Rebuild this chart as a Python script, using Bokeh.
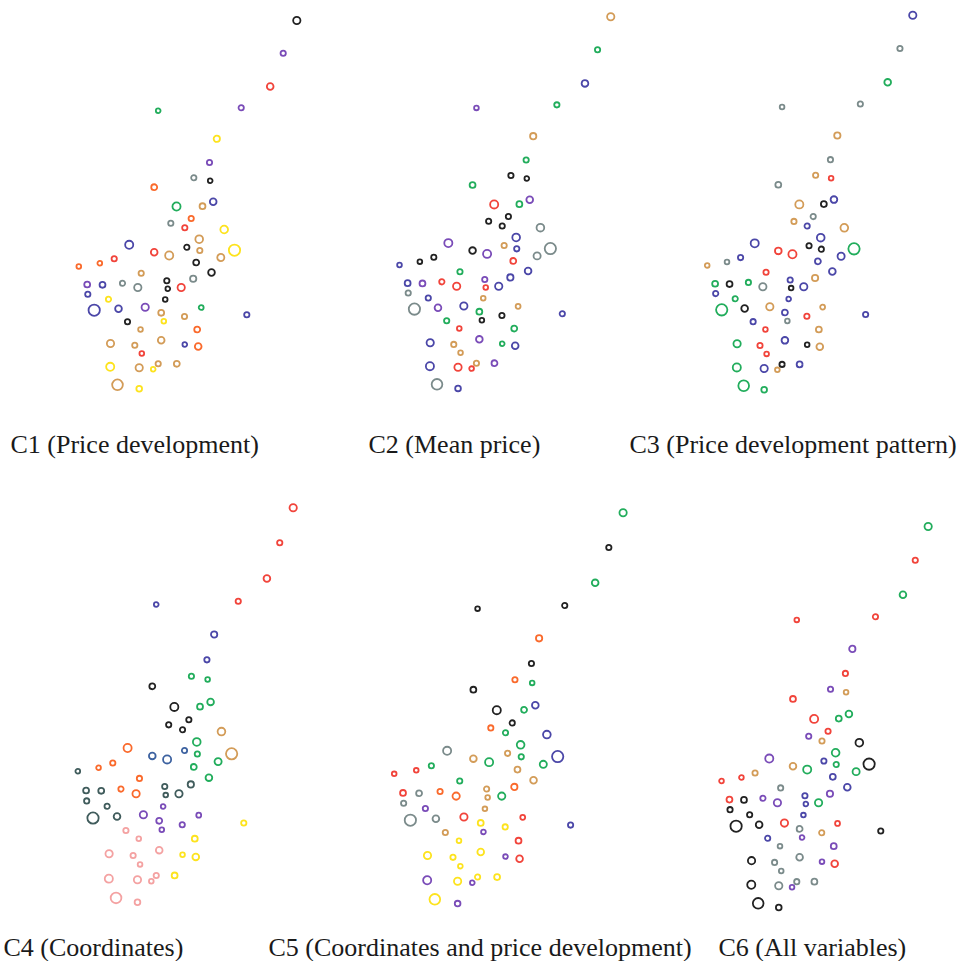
from bokeh.plotting import figure
from bokeh.models import ColumnDataSource, Range1d, Label
from bokeh.layouts import column, row
from bokeh.embed import file_html
from bokeh.resources import INLINE

# ---- data: 2-D embedding coordinates of the 66 observations ----
dim1 = [218.0, 204.4, 191.4, 162.4, 79.4, 138.0, 130.7, 115.0, 131.4, 75.4,
        97.7, 123.7, 134.4, 112.4, 92.0, 106.0, 145.4, 120.4, 50.4, 75.4,
        90.4, 108.0, 121.0, 155.7, 142.0, 35.4, 21.0, 0.0, 117.4, 132.7,
        62.4, 114.4, 88.0, 8.4, 23.7, 43.7, 59.0, 89.0, 102.4, 9.0,
        29.7, 86.4, 122.4, 15.4, 39.7, 66.4, 82.4, 105.7, 168.0, 85.0,
        48.7, 61.7, 118.4, 31.7, 82.4, 56.0, 106.0, 119.4, 63.0, 31.4,
        60.4, 79.4, 74.4, 98.0, 38.7, 60.4]
dim2 = [368.3, 335.6, 302.3, 281.0, 278.0, 250.0, 226.3, 211.0, 208.0, 201.6,
        182.3, 182.6, 187.0, 170.3, 165.6, 161.0, 159.3, 149.6, 144.0, 136.6,
        133.3, 141.6, 138.3, 138.6, 131.3, 130.0, 125.6, 122.3, 126.3, 116.3,
        115.6, 110.0, 108.0, 104.3, 104.0, 105.6, 101.3, 100.0, 101.3, 94.6,
        89.6, 89.3, 81.3, 78.6, 80.0, 81.6, 76.0, 72.3, 74.0, 67.6,
        67.0, 59.3, 59.3, 45.3, 48.6, 43.6, 44.3, 42.3, 35.3, 22.0,
        21.0, 25.0, 19.6, 25.0, 4.0, 0.0]
weight = [4.3, 3.3, 4.0, 3.3, 3.0, 3.8, 3.3, 3.3, 3.0, 3.6,
          4.7, 3.6, 4.0, 3.3, 3.3, 3.3, 4.5, 4.5, 4.7, 4.0,
          4.7, 3.3, 3.3, 6.3, 4.2, 3.3, 3.0, 3.0, 3.6, 4.0,
          3.3, 3.8, 3.3, 3.6, 3.6, 3.3, 4.3, 3.0, 4.3, 3.3,
          3.3, 3.0, 3.1, 6.3, 4.0, 4.3, 3.6, 3.3, 3.3, 3.0,
          3.3, 3.0, 3.6, 4.3, 4.0, 3.3, 3.0, 4.0, 3.0, 4.7,
          4.3, 3.3, 3.0, 3.6, 6.0, 3.5]

# cluster label of every observation in each clustering
c1 = "K P R P G Y P A K O G T B O A R Y T B R T K T Y T R O O K K T A K P B A A K R B Y K G B B P T T B Y K T O T T T B O R Y T T Y T T Y".split()
c2 = "T G B G P T G K K G R G P K K K A B P K P T B A A K K B R B G B P B P R R R B A B T T A P B G K B K G R G B P T G B T B R T R P A B".split()
c3 = "B A G A A T A T R A T K B A T B T B B R R K K G B B A T B B R T B G K G A K B B G B T G K T B R B A B R T G B R K T R G B K T B G G".split()
c4 = "R R R R B B B G G K K G G K K K T G O S S S G T G O O D G G O D D D D O O D D D D P P D D P P P Y P N N Y N N N Y Y N N N N N Y N N".split()
c5 = "G K G K K O K O G K K G B K O G B G A T G T G B G G R R T T G O T R A O O T G A P T R A A R Y Y B P T Y R Y Y Y P R Y P Y Y P Y Y P".split()
c6 = "G R G R R P R P T R R G G R P T K G P T G B G K G T R R B B A P B R K P P B G K K B R K K R A T K P B A P K A A P R A K A A P A K K".split()

titles = ["C1 (Price development)", "C2 (Mean price)", "C3 (Price development pattern)",
          "C4 (Coordinates)", "C5 (Coordinates and price development)", "C6 (All variables)"]

palette = {
    "K": "#222222", "R": "#f1443b", "O": "#fa6a2c", "T": "#d39c58",
    "Y": "#fde31e", "G": "#22ad5c", "B": "#4b47a8", "P": "#7a4cb8",
    "A": "#7b8b8b", "D": "#405c5c", "S": "#3d62a0", "N": "#f4a2a2",
}

# ---- layout geometry (page pixels) ----
TOTAL_W = 966
# panel frames: left, top, width, height
frames = [(0, 0, 345, 420), (345, 0, 277, 420), (622, 0, 344, 420),
          (0, 462, 300, 456), (300, 462, 340, 456), (640, 462, 326, 456)]
# embedding -> page: x of dim1=0, x-scale, y of dim2=0, y-scale
maps = [(78.3, 1.0, 388.3, 1.0), (399.0, 0.969, 387.9, 1.009),
        (706.7, 0.943, 389.3, 1.017), (77.3, 0.988, 901.7, 1.071),
        (393.7, 1.05, 903.1, 1.061), (721.0, 0.948, 907.0, 1.0345)]
# title strips: top, height; titles: x, baseline
strips = [(420, 42), (918, 43)]
title_pos = [(10, 444), (368, 444), (629, 444), (3, 947), (268, 947), (718, 947)]

LW = 1.8


def blank(width, height, xr, yr):
    p = figure(width=width, height=height, x_range=xr, y_range=yr,
               x_axis_location=None, y_axis_location=None,
               toolbar_location=None, min_border=0, output_backend="svg")
    p.grid.visible = False
    p.outline_line_color = None
    p.background_fill_color = "white"
    p.border_fill_color = "white"
    return p


figs = []
for k, labels in enumerate([c1, c2, c3, c4, c5, c6]):
    L, T, W, H = frames[k]
    a, sx, b, sy = maps[k]
    p = blank(W, H, Range1d((L - a) / sx, (L + W - a) / sx),
              Range1d((b - T - H) / sy, (b - T) / sy))
    src = ColumnDataSource(dict(
        x=dim1, y=dim2,
        size=[2 * w - 1.3 for w in weight],
        color=[palette[c] for c in labels],
    ))
    p.scatter(x="x", y="y", size="size", source=src, marker="circle",
              fill_color=None, line_color="color", line_width=LW)
    figs.append(p)

title_figs = []
for r, (st, sh) in enumerate(strips):
    t = blank(TOTAL_W, sh, Range1d(0, TOTAL_W), Range1d(0, sh))
    for k in range(3 * r, 3 * r + 3):
        tx, ty = title_pos[k]
        t.add_layout(Label(x=tx, y=st + sh - ty, text=titles[k],
                           text_font="Liberation Serif", text_font_size="26px",
                           text_color="#1a1a1a", text_baseline="alphabetic",
                           text_align="left"))
    title_figs.append(t)

layout = column(row(*figs[:3]), title_figs[0], row(*figs[3:]), title_figs[1])
open("out.html", "w").write(file_html(layout, INLINE))
